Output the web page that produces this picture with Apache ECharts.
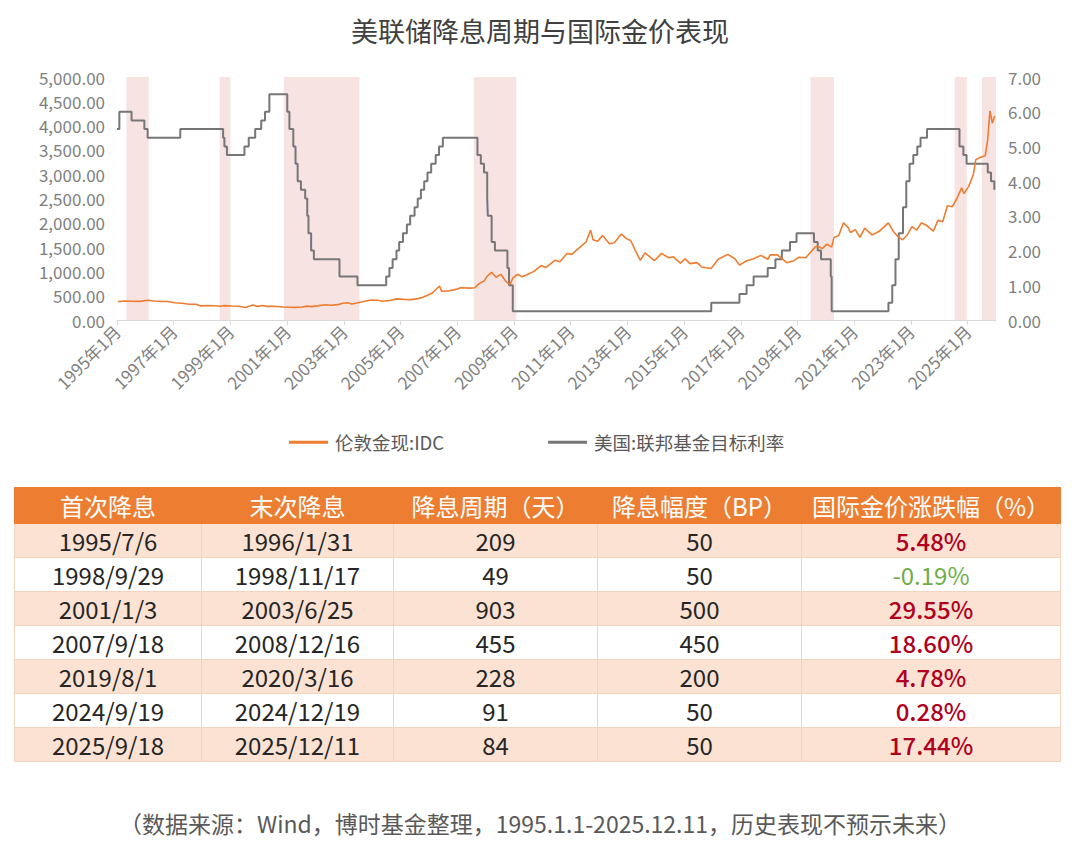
<!DOCTYPE html>
<html><head><meta charset="utf-8">
<script src="https://cdn.jsdelivr.net/npm/echarts@6/dist/echarts.min.js"></script>
<style>
html,body{margin:0;padding:0;background:#fff;width:1080px;height:857px;overflow:hidden;font-family:"Noto Sans CJK SC","Noto Sans",sans-serif;}
#chart{position:absolute;left:0;top:0;width:1080px;height:470px;}
#tbl{position:absolute;left:14px;top:487px;width:1046px;border-collapse:collapse;table-layout:fixed;}
#tbl th{background:#ED7D31;color:#fff;font-weight:normal;font-size:24px;line-height:1;height:35px;padding:0;text-align:center;border:1px solid #ED7D31;}
#tbl td{font-size:24px;line-height:1;color:#262626;height:33px;padding:0;text-align:center;border:1px solid #F6D3BE;}
#tbl tr.s td{background:#FBE2D3;}
#tbl tr.w td{background:#fff;}
#foot{position:absolute;left:0;top:808px;width:1080px;text-align:center;font-size:23px;line-height:30px;color:#595959;}
</style></head>
<body>
<div id="chart"></div>
<table id="tbl"></table>
<div id="foot">（数据来源：Wind，博时基金整理，1995.1.1-2025.12.11，历史表现不预示未来）</div>
<script>
// ---- chart data ----
const xTickYears = [1995,1997,1999,2001,2003,2005,2007,2009,2011,2013,2015,2017,2019,2021,2023,2025];
const goldDates = ['1995-01','1995-04','1995-07','1995-10','1996-01','1996-02','1996-04','1996-07','1996-10','1997-01','1997-04','1997-07','1997-10','1997-12','1998-03','1998-06','1998-08','1998-10','1999-01','1999-04','1999-07','1999-10','1999-12','2000-02','2000-04','2000-07','2000-11','2001-02','2001-04','2001-07','2001-09','2001-11','2002-02','2002-05','2002-07','2002-10','2002-12','2003-02','2003-04','2003-06','2003-09','2003-12','2004-03','2004-05','2004-08','2004-11','2005-02','2005-05','2005-08','2005-10','2005-12','2006-02','2006-05','2006-06','2006-09','2006-12','2007-02','2007-06','2007-08','2007-10','2007-12','2008-01','2008-03','2008-05','2008-07','2008-09','2008-10','2008-11','2008-12','2009-02','2009-04','2009-06','2009-09','2009-12','2010-02','2010-06','2010-08','2010-11','2011-01','2011-04','2011-07','2011-09','2011-10','2011-12','2012-02','2012-05','2012-07','2012-10','2012-12','2013-02','2013-04','2013-06','2013-08','2013-12','2014-03','2014-06','2014-08','2014-11','2015-01','2015-03','2015-06','2015-08','2015-12','2016-03','2016-07','2016-10','2016-12','2017-03','2017-06','2017-09','2017-12','2018-01','2018-04','2018-08','2018-11','2019-01','2019-04','2019-06','2019-08','2019-09','2019-11','2020-01','2020-03','2020-04','2020-06','2020-08','2020-10','2020-11','2021-01','2021-03','2021-05','2021-08','2021-11','2022-03','2022-05','2022-07','2022-09','2022-11','2023-01','2023-03','2023-05','2023-07','2023-10','2023-12','2024-02','2024-04','2024-06','2024-08','2024-10','2024-11','2025-01','2025-03','2025-04','2025-06','2025-08','2025-09','2025-10','2025-11','2025-12'];
const goldValues = [378,390,385,383,400,405,392,384,380,355,345,325,325,290,296,292,284,296,287,282,256,310,280,300,280,282,266,262,260,268,285,276,295,315,305,316,345,355,330,350,380,410,405,385,400,435,425,420,440,470,510,555,700,590,600,630,665,655,665,755,805,890,980,880,940,800,760,740,860,940,890,930,1000,1120,1080,1230,1200,1370,1350,1480,1600,1850,1650,1620,1740,1570,1590,1770,1680,1630,1420,1230,1380,1220,1370,1280,1300,1170,1260,1160,1180,1090,1060,1250,1350,1260,1130,1220,1260,1330,1250,1340,1340,1180,1220,1290,1280,1390,1500,1520,1470,1560,1500,1700,1740,2000,1900,1800,1860,1700,1890,1750,1820,2000,1830,1720,1650,1750,1920,1850,2000,1950,1830,2050,2020,2350,2330,2500,2720,2600,2750,3000,3300,3350,3380,3700,4300,4050,4200];
const fedDates = ['1995-01-01','1995-02-01','1995-07-06','1995-12-19','1996-01-31','1997-03-25','1998-09-29','1998-10-15','1998-11-17','1999-06-30','1999-08-24','1999-11-16','2000-02-02','2000-03-21','2000-05-16','2001-01-03','2001-01-31','2001-03-20','2001-04-18','2001-05-15','2001-06-27','2001-08-21','2001-09-17','2001-10-02','2001-11-06','2001-12-11','2002-11-06','2003-06-25','2004-06-30','2004-08-10','2004-09-21','2004-11-10','2004-12-14','2005-02-02','2005-03-22','2005-05-03','2005-06-30','2005-08-09','2005-09-20','2005-11-01','2005-12-13','2006-01-31','2006-03-28','2006-05-10','2006-06-29','2007-09-18','2007-10-31','2007-12-11','2008-01-22','2008-01-30','2008-03-18','2008-04-30','2008-10-08','2008-10-29','2008-12-16','2015-12-16','2016-12-14','2017-03-15','2017-06-14','2017-12-13','2018-03-21','2018-06-13','2018-09-26','2018-12-19','2019-07-31','2019-09-18','2019-10-30','2020-03-03','2020-03-15','2022-03-16','2022-05-04','2022-06-15','2022-07-27','2022-09-21','2022-11-02','2022-12-14','2023-02-01','2023-03-22','2023-05-03','2023-07-26','2024-09-18','2024-11-07','2024-12-18','2025-09-17','2025-10-29','2025-12-10','2025-12-11'];
const fedRates = [5.5,6.0,5.75,5.5,5.25,5.5,5.25,5.0,4.75,5.0,5.25,5.5,5.75,6.0,6.5,6.0,5.5,5.0,4.5,4.0,3.75,3.5,3.0,2.5,2.0,1.75,1.25,1.0,1.25,1.5,1.75,2.0,2.25,2.5,2.75,3.0,3.25,3.5,3.75,4.0,4.25,4.5,4.75,5.0,5.25,4.75,4.5,4.25,3.5,3.0,2.25,2.0,1.5,1.0,0.25,0.5,0.75,1.0,1.25,1.5,1.75,2.0,2.25,2.5,2.25,2.0,1.75,1.25,0.25,0.5,1.0,1.75,2.5,3.25,4.0,4.5,4.75,5.0,5.25,5.5,5.0,4.75,4.5,4.25,4.0,3.75,3.75];
// shaded cutting periods as drawn in the picture
const bandStarts = ['1995-05-01','1998-08-15','2000-11-20','2007-08-01','2019-06-15','2024-07-15','2025-07-01'];
const bandEnds   = ['1996-02-15','1999-01-01','2003-07-20','2009-02-01','2020-04-15','2024-12-20','2026-01-01'];
// ---- table data ----
const tableHeaders = ['首次降息','末次降息','降息周期（天）','降息幅度（BP）','国际金价涨跌幅（%）'];
const firstCut = ['1995/7/6','1998/9/29','2001/1/3','2007/9/18','2019/8/1','2024/9/19','2025/9/18'];
const lastCut = ['1996/1/31','1998/11/17','2003/6/25','2008/12/16','2020/3/16','2024/12/19','2025/12/11'];
const cutDays = [209,49,903,455,228,91,84];
const cutBP = [50,50,500,450,200,50,50];
const goldChange = [5.48,-0.19,29.55,18.60,4.78,0.28,17.44];

function toYear(s){
  const p = s.split('-').map(Number);
  const m = p[1], d = p.length > 2 ? p[2] : 15;
  return p[0] + ((m - 1) + (d - 1) / 31) / 12;
}
const FONT = '"Noto Sans CJK SC","Noto Sans",sans-serif';
const goldData = goldDates.map((d,i)=>[toYear(d), goldValues[i]]);
const fedData = fedDates.map((d,i)=>[toYear(d), fedRates[i]]);
const bands = bandStarts.map((s,i)=>[{xAxis: toYear(s)},{xAxis: toYear(bandEnds[i])}]);

const chart = echarts.init(document.getElementById('chart'), null, {renderer:'svg'});
chart.setOption({
  animation:false,
  textStyle:{fontFamily:FONT},
  title:{text:'美联储降息周期与国际金价表现',left:'center',top:12,
    textStyle:{fontSize:27,fontWeight:'normal',color:'#404040',fontFamily:FONT}},
  legend:{left:284,top:428,itemWidth:39,itemHeight:3,icon:'rect',itemGap:104,
    data:['伦敦金现:IDC','美国:联邦基金目标利率'],
    textStyle:{fontSize:18.5,color:'#595959',fontFamily:FONT,padding:[0,0,0,2]}},
  grid:{left:117,right:84,top:77,bottom:150,outerBoundsMode:'none'},
  xAxis:{type:'value',min:1995,max:2026,
    axisLine:{show:true,lineStyle:{color:'#d9d9d9'}},
    axisTick:{show:true,customValues:xTickYears,length:5,lineStyle:{color:'#d9d9d9'}},
    splitLine:{show:false},
    axisLabel:{customValues:xTickYears,rotate:45,formatter:v=>v+'年1月',color:'#7f7f7f',fontSize:17,margin:8,fontFamily:FONT}},
  yAxis:[
    {type:'value',min:0,max:5000,interval:500,splitLine:{show:false},axisLine:{show:false},axisTick:{show:false},
     axisLabel:{margin:12,color:'#7f7f7f',fontSize:17,fontFamily:FONT,
       formatter:v=>v.toLocaleString('en-US',{minimumFractionDigits:2,maximumFractionDigits:2})}},
    {type:'value',min:0,max:7,interval:1,position:'right',splitLine:{show:false},axisLine:{show:false},axisTick:{show:false},
     axisLabel:{margin:12,color:'#7f7f7f',fontSize:17,fontFamily:FONT,formatter:v=>v.toFixed(2)}}
  ],
  series:[
    {name:'bands',type:'line',data:[],silent:true,z:1,
     markArea:{silent:true,itemStyle:{color:'#F8E3E3'},data:bands}},
    {name:'伦敦金现:IDC',type:'line',yAxisIndex:0,data:goldData,showSymbol:false,z:3,
     lineStyle:{color:'#ED7D31',width:1.6},itemStyle:{color:'#ED7D31'}},
    {name:'美国:联邦基金目标利率',type:'line',yAxisIndex:1,step:'end',data:fedData,showSymbol:false,z:2,
     lineStyle:{color:'#767676',width:2},itemStyle:{color:'#767676'}}
  ]
});

// ---- table ----
const tbl = document.getElementById('tbl');
const widths = [187,192,204,204,259];
let html = '<colgroup>' + widths.map(w=>'<col style="width:'+w+'px">').join('') + '</colgroup>';
html += '<tr>' + tableHeaders.map(h=>'<th>'+h+'</th>').join('') + '</tr>';
firstCut.forEach((f,i)=>{
  const c = goldChange[i];
  const col = c < 0 ? '#70AD47' : '#B0001E';
  const wt = c < 0 ? 'normal' : '500';
  html += '<tr class="'+(i%2===0?'s':'w')+'"><td>'+f+'</td><td>'+lastCut[i]+'</td><td>'+cutDays[i]+'</td><td>'+cutBP[i]+'</td>'+
    '<td style="color:'+col+';font-weight:'+wt+'">'+c.toFixed(2)+'%</td></tr>';
});
tbl.innerHTML = html;
</script>
</body></html>
